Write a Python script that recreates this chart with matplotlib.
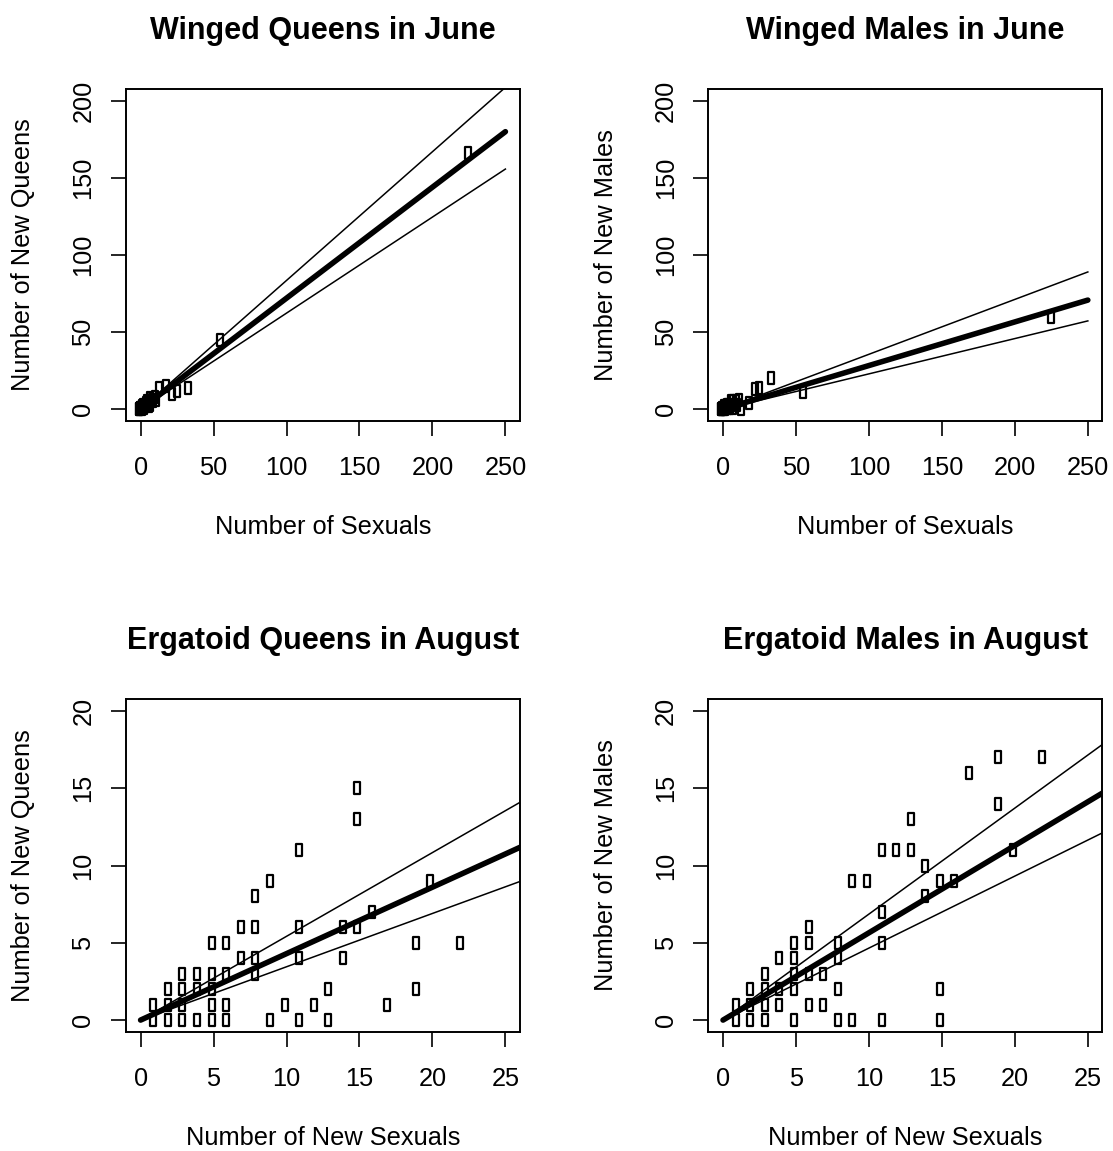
import numpy as np
import matplotlib
matplotlib.use('Agg')
import matplotlib.pyplot as plt
from matplotlib.path import Path

plt.rcParams['font.family'] = ['Liberation Sans', 'DejaVu Sans']

# June colonies: total sexuals with the split into winged queens / males
june_sexuals = [226, 56, 34, 26, 23, 19, 14, 12, 11, 10, 9, 8, 8, 7, 6, 5, 5, 4, 3, 3, 2, 2, 1, 1, 0,
                0, 1, 2, 3, 4, 5, 6, 7]
june_queens = [166, 45, 14, 12, 10, 15, 14, 6, 8, 5, 6, 7, 3, 2, 5, 2, 4, 1, 3, 1, 2, 0, 1, 0, 0,
               0, 1, 1, 2, 2, 3, 4, 4]
june_males = [60, 11, 20, 14, 13, 4, 0, 6, 3, 5, 3, 1, 5, 5, 1, 3, 1, 3, 0, 2, 0, 2, 0, 1, 0,
              0, 0, 1, 1, 2, 2, 2, 3]

# August colonies: new sexuals with the split into ergatoid queens / males
aug_sexuals = [1, 1, 2, 2, 2, 3, 3, 3, 3, 4, 4, 4, 5, 5, 5, 5, 5, 6, 6, 6, 6,
               7, 7, 8, 8, 8, 8, 9, 9, 10, 11, 11, 11, 11, 12, 13, 13, 14, 14,
               15, 15, 15, 16, 17, 19, 19, 20, 22]
aug_queens = [0, 1, 0, 1, 2, 0, 1, 2, 3, 0, 2, 3, 0, 1, 2, 3, 5, 0, 1, 3, 5,
              4, 6, 3, 4, 6, 8, 0, 9, 1, 0, 4, 6, 11, 1, 0, 2, 4, 6,
              6, 13, 15, 7, 1, 2, 5, 9, 5]
aug_males = [1, 0, 2, 1, 0, 3, 2, 1, 0, 4, 2, 1, 5, 4, 3, 2, 0, 6, 5, 3, 1,
             3, 1, 5, 4, 2, 0, 9, 0, 9, 11, 7, 5, 0, 11, 13, 11, 10, 8,
             9, 2, 0, 9, 16, 17, 14, 11, 17]

# slopes of the fitted line through the origin and its lower / upper bands
wq_slopes = [0.72, 0.623, 0.835]
wm_slopes = [0.283, 0.229, 0.356]
eq_slopes = [0.43, 0.345, 0.542]
em_slopes = [0.565, 0.466, 0.686]

# open upright box used as the point symbol
box = Path([(-0.42, -0.5), (0.08, -0.5), (0.08, 0.5), (-0.42, 0.5), (-0.42, -0.5)],
           [Path.MOVETO, Path.LINETO, Path.LINETO, Path.LINETO, Path.CLOSEPOLY])

fig = plt.figure(figsize=(11.13, 11.51), dpi=100)

panels = [
    # title, ylabel, xlabel, x, y, slopes, axis max, line end, ticks, rect
    ('Winged Queens in June', 'Number of New Queens', 'Number of Sexuals',
     june_sexuals, june_queens, wq_slopes, (250, 200), 250,
     (np.arange(0, 251, 50), np.arange(0, 201, 50)), [0.1132, 0.6338, 0.3540, 0.2893]),
    ('Winged Males in June', 'Number of New Males', 'Number of Sexuals',
     june_sexuals, june_males, wm_slopes, (250, 200), 250,
     (np.arange(0, 251, 50), np.arange(0, 201, 50)), [0.6365, 0.6338, 0.3540, 0.2893]),
    ('Ergatoid Queens in August', 'Number of New Queens', 'Number of New Sexuals',
     aug_sexuals, aug_queens, eq_slopes, (25, 20), 30,
     (np.arange(0, 26, 5), np.arange(0, 21, 5)), [0.1132, 0.1030, 0.3540, 0.2900]),
    ('Ergatoid Males in August', 'Number of New Males', 'Number of New Sexuals',
     aug_sexuals, aug_males, em_slopes, (25, 20), 30,
     (np.arange(0, 26, 5), np.arange(0, 21, 5)), [0.6365, 0.1030, 0.3540, 0.2900]),
]

for title, ylab, xlab, xs, ys, slopes, (xmax, ymax), xend, (xt, yt), rect in panels:
    ax = fig.add_axes(rect)
    ax.plot(xs, ys, linestyle='none', marker=box, markersize=8.0,
            markerfacecolor='none', markeredgecolor='black', markeredgewidth=1.6,
            zorder=3)

    lx = np.array([0, xend])
    fit, lo, hi = slopes
    ax.plot(lx, fit * lx, color='black', lw=4.0, solid_capstyle='round', zorder=4)
    ax.plot(lx, lo * lx, color='black', lw=1.1, zorder=4)
    ax.plot(lx, hi * lx, color='black', lw=1.1, zorder=4)

    # R style 4% padding around the data range
    ax.set_xlim(-0.04 * xmax, 1.04 * xmax)
    ax.set_ylim(-0.04 * ymax, 1.04 * ymax)
    ax.set_xticks(xt)
    ax.set_yticks(yt)
    ax.set_yticklabels([str(v) for v in yt], rotation=90, va='center')
    ax.tick_params(direction='out', length=11, width=1.2, labelsize=18.3, pad=14)
    ax.tick_params(axis='y', pad=11)
    for s in ax.spines.values():
        s.set_linewidth(1.4)

    ax.set_title(title, fontsize=22, fontweight='bold', pad=36)
    ax.set_xlabel(xlab, fontsize=18.3)
    ax.set_ylabel(ylab, fontsize=18.3)
    ax.xaxis.set_label_coords(0.5, -0.317)
    ax.xaxis.label.set_va('center')
    ax.yaxis.set_label_coords(-0.261, 0.5)
    ax.yaxis.label.set_va('center')

fig.savefig('out.png', dpi=100)
